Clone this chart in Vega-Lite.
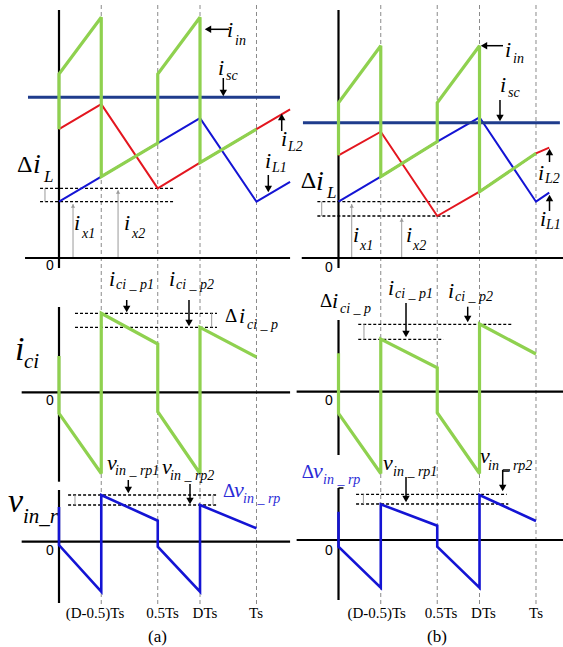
{
"$schema": "https://vega.github.io/schema/vega-lite/v6.json",
"padding": 0, "spacing": 0, "bounds": "flush", "background": "white",
"config": {"view": {"stroke": null}},
"datasets": {
"seg_a": [
{"c":"axis","t":0,"y":637,"t2":0,"y2":379},
{"c":"axis","t":-0.172,"y":389,"t2":1.17,"y2":389},
{"c":"axis","t":0,"y":340,"t2":0,"y2":165.3},
{"c":"axis","t":-0.189,"y":254.7,"t2":1.17,"y2":254.7},
{"c":"axis","t":0,"y":157,"t2":0,"y2":44},
{"c":"axis","t":-0.189,"y":105.3,"t2":1.17,"y2":105.3},
{"c":"grid","t":0.214,"y":642,"t2":0.214,"y2":40},
{"c":"grid","t":0.5,"y":642,"t2":0.5,"y2":40},
{"c":"grid","t":0.714,"y":642,"t2":0.714,"y2":40},
{"c":"grid","t":1,"y":642,"t2":1,"y2":40},
{"c":"dash","t":-0.096,"y":458.7,"t2":0.587,"y2":458.7},
{"c":"dash","t":-0.096,"y":445.3,"t2":0.587,"y2":445.3},
{"c":"dash","t":0.081,"y":333.7,"t2":0.8,"y2":333.7},
{"c":"dash","t":0.081,"y":319.7,"t2":0.8,"y2":319.7},
{"c":"dash","t":0.046,"y":152,"t2":0.8,"y2":152},
{"c":"dash","t":0.046,"y":142,"t2":0.8,"y2":142},
{"c":"arrow","t":0.7544,"y":617.7,"t2":0.8608,"y2":617.7},
{"c":"arrow","t":0.8319,"y":569,"t2":0.8319,"y2":554},
{"c":"arrow","t":1.1276,"y":516,"t2":1.1276,"y2":530},
{"c":"arrow","t":1.0598,"y":472,"t2":1.0598,"y2":458},
{"c":"arrow","t":0.3428,"y":347,"t2":0.3428,"y2":338},
{"c":"arrow","t":0.6582,"y":347,"t2":0.6582,"y2":324},
{"c":"arrow","t":0.3509,"y":167,"t2":0.3509,"y2":157},
{"c":"arrow","t":0.6633,"y":163,"t2":0.6633,"y2":146},
{"c":"garrow","t":0.071,"y":389,"t2":0.071,"y2":443},
{"c":"garrow","t":0.299,"y":389,"t2":0.299,"y2":456.7},
{"c":"garrow","t":-0.071,"y":458.7,"t2":-0.071,"y2":445.3},
{"c":"garrow","t":0.773,"y":333.7,"t2":0.773,"y2":319.7},
{"c":"garrow","t":0.081,"y":152,"t2":0.081,"y2":142},
{"c":"garrow","t":0.78,"y":152,"t2":0.78,"y2":142}
],
"head_a": [
{"c":"k","d":"left","t":0.7544,"y":617.7},
{"c":"k","d":"down","t":0.8319,"y":554},
{"c":"k","d":"up","t":1.1276,"y":530},
{"c":"k","d":"down","t":1.0598,"y":458},
{"c":"k","d":"down","t":0.3428,"y":338},
{"c":"k","d":"down","t":0.6582,"y":324},
{"c":"k","d":"down","t":0.3509,"y":157},
{"c":"k","d":"down","t":0.6633,"y":146},
{"c":"g","d":"up","t":0.071,"y":441},
{"c":"g","d":"up","t":0.299,"y":455}
],
"line_a": [
{"s":"iL1","k":1,"t":0,"y":445.3},{"s":"iL1","k":2,"t":0.214,"y":470.3},{"s":"iL1","k":3,"t":0.5,"y":503.8},{"s":"iL1","k":4,"t":0.714,"y":528.8},{"s":"iL1","k":5,"t":1,"y":445.3},{"s":"iL1","k":6,"t":1.17,"y":465.2},
{"s":"iL2","k":1,"t":0,"y":517.8},{"s":"iL2","k":2,"t":0.214,"y":542.8},{"s":"iL2","k":3,"t":0.5,"y":458.7},{"s":"iL2","k":4,"t":0.714,"y":484.3},{"s":"iL2","k":5,"t":1,"y":517.8},{"s":"iL2","k":6,"t":1.17,"y":537.7},
{"s":"isc","k":1,"t":-0.157,"y":549.7},{"s":"isc","k":2,"t":1.119,"y":549.7},
{"s":"iin","k":1,"t":0,"y":517.8},{"s":"iin","k":2,"t":0,"y":573},{"s":"iin","k":3,"t":0.214,"y":629.7},{"s":"iin","k":4,"t":0.214,"y":470.3},{"s":"iin","k":5,"t":0.5,"y":503.8},{"s":"iin","k":6,"t":0.5,"y":573},{"s":"iin","k":7,"t":0.714,"y":629.7},{"s":"iin","k":8,"t":0.714,"y":484.3},{"s":"iin","k":9,"t":1,"y":517.8},
{"s":"ici","k":1,"t":0,"y":291},{"s":"ici","k":2,"t":0,"y":233.7},{"s":"ici","k":3,"t":0.214,"y":173.5},{"s":"ici","k":4,"t":0.214,"y":333.7},{"s":"ici","k":5,"t":0.5,"y":303},{"s":"ici","k":6,"t":0.5,"y":235.3},{"s":"ici","k":7,"t":0.714,"y":173.5},{"s":"ici","k":8,"t":0.714,"y":319.7},{"s":"ici","k":9,"t":1,"y":290},
{"s":"vin","k":1,"t":0,"y":140},{"s":"vin","k":2,"t":0,"y":102},{"s":"vin","k":3,"t":0.214,"y":55.3},{"s":"vin","k":4,"t":0.214,"y":152},{"s":"vin","k":5,"t":0.5,"y":126.3},{"s":"vin","k":6,"t":0.5,"y":100.3},{"s":"vin","k":7,"t":0.714,"y":55.3},{"s":"vin","k":8,"t":0.714,"y":142},{"s":"vin","k":9,"t":1,"y":118.7}
],
"txt_a": [
{"r":"symL","s":"i","t":-0.1316,"y":474,"c":"k"},
{"r":"subL","s":"L","t":-0.0759,"y":465,"c":"k"},
{"r":"delL","s":"Δ","t":-0.2127,"y":475,"c":"k"},
{"r":"sym","s":"i","t":0.0759,"y":417,"c":"k"},
{"r":"sub","s":"x1","t":0.1165,"y":409,"c":"k"},
{"r":"sym","s":"i","t":0.3291,"y":417,"c":"k"},
{"r":"sub","s":"x2","t":0.3696,"y":409,"c":"k"},
{"r":"sym","s":"i","t":0.8506,"y":610,"c":"k"},
{"r":"sub","s":"in","t":0.8911,"y":602,"c":"k"},
{"r":"sym","s":"i","t":0.8051,"y":572,"c":"k"},
{"r":"sub","s":"sc","t":0.8456,"y":567,"c":"k"},
{"r":"sym","s":"i","t":1.1241,"y":501,"c":"k"},
{"r":"sub","s":"L2","t":1.1595,"y":496,"c":"k"},
{"r":"sym","s":"i","t":1.043,"y":479,"c":"k"},
{"r":"sub","s":"L1","t":1.0785,"y":475,"c":"k"},
{"r":"big","s":"i","t":-0.2228,"y":287,"c":"k"},
{"r":"bigsub","s":"ci","t":-0.1772,"y":279,"c":"k"},
{"r":"sym","s":"i","t":0.2532,"y":361,"c":"k"},
{"r":"sub","s":"ci _ p1","t":0.2886,"y":358,"c":"k"},
{"r":"sym","s":"i","t":0.557,"y":361,"c":"k"},
{"r":"sub","s":"ci _ p2","t":0.5924,"y":358,"c":"k"},
{"r":"del","s":"Δ","t":0.8405,"y":325,"c":"k"},
{"r":"sym","s":"i","t":0.9114,"y":324,"c":"k"},
{"r":"sub","s":"ci _ p","t":0.9519,"y":318,"c":"k"},
{"r":"big","s":"v","t":-0.2582,"y":135,"c":"k"},
{"r":"bigsub","s":"in_r","t":-0.1823,"y":124,"c":"k"},
{"r":"sym","s":"v","t":0.243,"y":177,"c":"k"},
{"r":"sub","s":"in _ rp1","t":0.2835,"y":172,"c":"k"},
{"r":"sym","s":"v","t":0.5215,"y":173,"c":"k"},
{"r":"sub","s":"in _ rp2","t":0.562,"y":167,"c":"k"},
{"r":"del","s":"Δ","t":0.8304,"y":150,"c":"b"},
{"r":"sym","s":"v","t":0.8861,"y":150,"c":"b"},
{"r":"sub","s":"in _ rp","t":0.9316,"y":144,"c":"b"},
{"r":"tick","s":"(D-0.5)Ts","t":0.1823,"y":29,"c":"k"},
{"r":"tick","s":"0.5Ts","t":0.524,"y":29,"c":"k"},
{"r":"tick","s":"DTs","t":0.7392,"y":29,"c":"k"},
{"r":"tick","s":"Ts","t":0.9975,"y":29,"c":"k"},
{"r":"panel","s":"(a)","t":0.4987,"y":5,"c":"k"},
{"r":"zero","s":"0","t":-0.0658,"y":377,"c":"k"},
{"r":"zero","s":"0","t":-0.0658,"y":242,"c":"k"},
{"r":"zero","s":"0","t":-0.0658,"y":92,"c":"k"}
],
"seg_b": [
{"c":"axis","t":0,"y":637,"t2":0,"y2":379},
{"c":"axis","t":-0.186,"y":389,"t2":1.137,"y2":389},
{"c":"axis","t":0,"y":327,"t2":0,"y2":192},
{"c":"axis","t":-0.212,"y":255.3,"t2":1.137,"y2":255.3},
{"c":"axis","t":0,"y":159,"t2":0,"y2":47},
{"c":"axis","t":-0.212,"y":107,"t2":1.137,"y2":107},
{"c":"arrow","t":0,"y":159,"t2":0.025,"y2":159},
{"c":"grid","t":0.214,"y":642,"t2":0.214,"y2":40},
{"c":"grid","t":0.5,"y":642,"t2":0.5,"y2":40},
{"c":"grid","t":0.714,"y":642,"t2":0.714,"y2":40},
{"c":"grid","t":1,"y":642,"t2":1,"y2":40},
{"c":"dash","t":-0.107,"y":445.3,"t2":0.565,"y2":445.3},
{"c":"dash","t":-0.107,"y":431,"t2":0.565,"y2":431},
{"c":"dash","t":0.1,"y":322.7,"t2":0.877,"y2":322.7},
{"c":"dash","t":0.1,"y":307.7,"t2":0.531,"y2":307.7},
{"c":"dash","t":0.089,"y":152.7,"t2":0.852,"y2":152.7},
{"c":"dash","t":0.089,"y":143,"t2":0.86,"y2":143},
{"c":"arrow","t":0.7367,"y":601.3,"t2":0.8329,"y2":601.3},
{"c":"arrow","t":0.8177,"y":547,"t2":0.8177,"y2":529},
{"c":"arrow","t":1.0684,"y":485,"t2":1.0684,"y2":495},
{"c":"arrow","t":1.0684,"y":436,"t2":1.0684,"y2":449},
{"c":"arrow","t":0.3418,"y":344,"t2":0.3418,"y2":313},
{"c":"arrow","t":0.6542,"y":340.3,"t2":0.6542,"y2":328},
{"c":"arrow","t":0.3418,"y":170,"t2":0.3418,"y2":148},
{"c":"arrow","t":0.8314,"y":177,"t2":0.8314,"y2":159},
{"c":"arrow","t":0.8314,"y":177,"t2":0.8684,"y2":177},
{"c":"garrow","t":0.067,"y":389,"t2":0.067,"y2":443},
{"c":"garrow","t":0.32,"y":389,"t2":0.32,"y2":429},
{"c":"garrow","t":-0.085,"y":445.3,"t2":-0.085,"y2":431},
{"c":"garrow","t":0.129,"y":322.7,"t2":0.129,"y2":307.7},
{"c":"garrow","t":0.126,"y":152.7,"t2":0.126,"y2":143}
],
"head_b": [
{"c":"k","d":"left","t":0.7367,"y":601.3},
{"c":"k","d":"down","t":0.8177,"y":529},
{"c":"k","d":"up","t":1.0684,"y":495},
{"c":"k","d":"up","t":1.0684,"y":449},
{"c":"k","d":"down","t":0.3418,"y":313},
{"c":"k","d":"down","t":0.6542,"y":328},
{"c":"k","d":"down","t":0.3418,"y":148},
{"c":"k","d":"down","t":0.8314,"y":159},
{"c":"g","d":"up","t":0.067,"y":441},
{"c":"g","d":"up","t":0.32,"y":427}
],
"line_b": [
{"s":"iL1","k":1,"t":0,"y":445.3},{"s":"iL1","k":2,"t":0.214,"y":470.3},{"s":"iL1","k":3,"t":0.5,"y":505.3},{"s":"iL1","k":4,"t":0.714,"y":529.7},{"s":"iL1","k":5,"t":1,"y":445.3},{"s":"iL1","k":6,"t":1.067,"y":454.3},
{"s":"iL2","k":1,"t":0,"y":491.7},{"s":"iL2","k":2,"t":0.214,"y":515.3},{"s":"iL2","k":3,"t":0.5,"y":431},{"s":"iL2","k":4,"t":0.714,"y":455.3},{"s":"iL2","k":5,"t":1,"y":493.7},{"s":"iL2","k":6,"t":1.067,"y":499.3},
{"s":"isc","k":1,"t":-0.18,"y":524.3},{"s":"isc","k":2,"t":1.121,"y":524.3},
{"s":"iin","k":1,"t":0,"y":491.7},{"s":"iin","k":2,"t":0,"y":544.3},{"s":"iin","k":3,"t":0.214,"y":601.3},{"s":"iin","k":4,"t":0.214,"y":470.3},{"s":"iin","k":5,"t":0.5,"y":505.3},{"s":"iin","k":6,"t":0.5,"y":544.3},{"s":"iin","k":7,"t":0.714,"y":601.3},{"s":"iin","k":8,"t":0.714,"y":455.3},{"s":"iin","k":9,"t":1,"y":493.7},
{"s":"ici","k":1,"t":0,"y":293.7},{"s":"ici","k":2,"t":0,"y":233.7},{"s":"ici","k":3,"t":0.214,"y":173.5},{"s":"ici","k":4,"t":0.214,"y":308},{"s":"ici","k":5,"t":0.5,"y":279.3},{"s":"ici","k":6,"t":0.5,"y":234.3},{"s":"ici","k":7,"t":0.714,"y":173.5},{"s":"ici","k":8,"t":0.714,"y":323},{"s":"ici","k":9,"t":1,"y":293},
{"s":"vin","k":1,"t":0,"y":135.3},{"s":"vin","k":2,"t":0,"y":100.3},{"s":"vin","k":3,"t":0.214,"y":59.3},{"s":"vin","k":4,"t":0.214,"y":142.7},{"s":"vin","k":5,"t":0.5,"y":121.3},{"s":"vin","k":6,"t":0.5,"y":100.3},{"s":"vin","k":7,"t":0.714,"y":59.3},{"s":"vin","k":8,"t":0.714,"y":152},{"s":"vin","k":9,"t":1,"y":126}
],
"txt_b": [
{"r":"delL","s":"Δ","t":-0.1914,"y":459,"c":"k"},
{"r":"symL","s":"i","t":-0.1139,"y":457,"c":"k"},
{"r":"subL","s":"L","t":-0.0582,"y":449,"c":"k"},
{"r":"sym","s":"i","t":0.0734,"y":405,"c":"k"},
{"r":"sub","s":"x1","t":0.1089,"y":397,"c":"k"},
{"r":"sym","s":"i","t":0.3418,"y":405,"c":"k"},
{"r":"sub","s":"x2","t":0.3772,"y":397,"c":"k"},
{"r":"sym","s":"i","t":0.843,"y":590,"c":"k"},
{"r":"sub","s":"in","t":0.8835,"y":584,"c":"k"},
{"r":"sym","s":"i","t":0.8177,"y":555,"c":"k"},
{"r":"sub","s":"sc","t":0.8582,"y":550,"c":"k"},
{"r":"sym","s":"i","t":1.0101,"y":467,"c":"k"},
{"r":"sub","s":"L2","t":1.0456,"y":464,"c":"k"},
{"r":"sym","s":"i","t":1.0203,"y":421,"c":"k"},
{"r":"sub","s":"L1","t":1.0506,"y":418,"c":"k"},
{"r":"del","s":"Δ","t":-0.0937,"y":340,"c":"k"},
{"r":"sym","s":"i","t":-0.0329,"y":339,"c":"k"},
{"r":"sub","s":"ci _ p","t":0.0076,"y":334,"c":"k"},
{"r":"sym","s":"i","t":0.2506,"y":352,"c":"k"},
{"r":"sub","s":"ci _ p1","t":0.2861,"y":349,"c":"k"},
{"r":"sym","s":"i","t":0.5544,"y":349,"c":"k"},
{"r":"sub","s":"ci _ p2","t":0.5899,"y":346,"c":"k"},
{"r":"del","s":"Δ","t":-0.1863,"y":169,"c":"b"},
{"r":"sym","s":"v","t":-0.1291,"y":169,"c":"b"},
{"r":"sub","s":"in _ rp","t":-0.0785,"y":163,"c":"b"},
{"r":"sym","s":"v","t":0.2253,"y":177,"c":"k"},
{"r":"sub","s":"in _ rp1","t":0.2759,"y":171,"c":"k"},
{"r":"sym","s":"v","t":0.7165,"y":184,"c":"k"},
{"r":"sub","s":"in _ rp2","t":0.757,"y":177,"c":"k"},
{"r":"tick","s":"(D-0.5)Ts","t":0.1934,"y":29,"c":"k"},
{"r":"tick","s":"0.5Ts","t":0.519,"y":29,"c":"k"},
{"r":"tick","s":"DTs","t":0.7342,"y":29,"c":"k"},
{"r":"tick","s":"Ts","t":1.0,"y":29,"c":"k"},
{"r":"panel","s":"(b)","t":0.4987,"y":5,"c":"k"},
{"r":"zero","s":"0","t":-0.0684,"y":375,"c":"k"},
{"r":"zero","s":"0","t":-0.0684,"y":242,"c":"k"},
{"r":"zero","s":"0","t":-0.0684,"y":92,"c":"k"}
]
},
"hconcat": [
{
"width": 290, "height": 647,
"encoding": {
 "x": {"field":"t","type":"quantitative","scale":{"domain":[-0.29873,1.16962],"nice":false,"zero":false},"axis":null},
 "y": {"field":"y","type":"quantitative","scale":{"domain":[0,647],"nice":false,"zero":false},"axis":null}
},
"layer": [
 {"data":{"name":"seg_a"},"transform":[{"filter":"datum.c=='grid'"}],"mark":{"type":"rule","color":"#8a8a8a","strokeWidth":1,"strokeDash":[4,3]},"encoding":{"x2":{"field":"t2"},"y2":{"field":"y2"}}},
 {"data":{"name":"seg_a"},"transform":[{"filter":"datum.c=='dash'"}],"mark":{"type":"rule","color":"#000000","strokeWidth":1.3,"strokeDash":[3,2]},"encoding":{"x2":{"field":"t2"},"y2":{"field":"y2"}}},
 {"data":{"name":"seg_a"},"transform":[{"filter":"datum.c=='garrow'"}],"mark":{"type":"rule","color":"#9a9a9a","strokeWidth":1},"encoding":{"x2":{"field":"t2"},"y2":{"field":"y2"}}},
 {"data":{"name":"seg_a"},"transform":[{"filter":"datum.c=='axis'"}],"mark":{"type":"rule","color":"#000000","strokeWidth":2.2},"encoding":{"x2":{"field":"t2"},"y2":{"field":"y2"}}},
 {"data":{"name":"line_a"},"transform":[{"filter":"datum.s=='iL1'"}],"mark":{"type":"line","color":"#1414d4","strokeWidth":2,"strokeJoin":"miter","strokeMiterLimit":3},"encoding":{"order":{"field":"k","type":"quantitative"}}},
 {"data":{"name":"line_a"},"transform":[{"filter":"datum.s=='iL2'"}],"mark":{"type":"line","color":"#e3161f","strokeWidth":2,"strokeJoin":"miter","strokeMiterLimit":3},"encoding":{"order":{"field":"k","type":"quantitative"}}},
 {"data":{"name":"line_a"},"transform":[{"filter":"datum.s=='isc'"}],"mark":{"type":"line","color":"#1f3c8c","strokeWidth":3},"encoding":{"order":{"field":"k","type":"quantitative"}}},
 {"data":{"name":"line_a"},"transform":[{"filter":"datum.s=='vin'"}],"mark":{"type":"line","color":"#1414d4","strokeWidth":2.6,"strokeJoin":"miter","strokeMiterLimit":3},"encoding":{"order":{"field":"k","type":"quantitative"}}},
 {"data":{"name":"line_a"},"transform":[{"filter":"datum.s=='iin' || datum.s=='ici'"}],"mark":{"type":"line","color":"#8fd14f","strokeWidth":3.2,"strokeJoin":"miter","strokeMiterLimit":3},"encoding":{"detail":{"field":"s"},"order":{"field":"k","type":"quantitative"}}},
 {"data":{"name":"seg_a"},"transform":[{"filter":"datum.c=='arrow'"}],"mark":{"type":"rule","color":"#000000","strokeWidth":1.5},"encoding":{"x2":{"field":"t2"},"y2":{"field":"y2"}}},
 {"data":{"name":"head_a"},"transform":[{"filter":"datum.c=='k'"}],"mark":{"type":"point","filled":true,"color":"#000000","size":55,"opacity":1},"encoding":{"shape":{"field":"d","type":"nominal","scale":{"domain":["up","down","left"],"range":["triangle-up","triangle-down","triangle-left"]},"legend":null}}},
 {"data":{"name":"head_a"},"transform":[{"filter":"datum.c=='g'"}],"mark":{"type":"point","filled":true,"color":"#9a9a9a","size":18,"opacity":1},"encoding":{"shape":{"field":"d","type":"nominal","scale":{"domain":["up","down","left"],"range":["triangle-up","triangle-down","triangle-left"]},"legend":null}}},
 {"data":{"name":"txt_a"},"transform":[{"filter":"datum.r=='sym'"}],"mark":{"type":"text","font":"Liberation Serif","fontStyle":"italic","fontSize":22,"align":"left","baseline":"alphabetic"},"encoding":{"text":{"field":"s"},"color":{"field":"c","type":"nominal","scale":{"domain":["k","b"],"range":["#000000","#2b2bd6"]},"legend":null}}},
 {"data":{"name":"txt_a"},"transform":[{"filter":"datum.r=='sub'"}],"mark":{"type":"text","font":"Liberation Serif","fontStyle":"italic","fontSize":14,"align":"left","baseline":"alphabetic"},"encoding":{"text":{"field":"s"},"color":{"field":"c","type":"nominal","scale":{"domain":["k","b"],"range":["#000000","#2b2bd6"]},"legend":null}}},
 {"data":{"name":"txt_a"},"transform":[{"filter":"datum.r=='symL'"}],"mark":{"type":"text","font":"Liberation Serif","fontStyle":"italic","fontSize":28,"align":"left","baseline":"alphabetic","color":"#000000"},"encoding":{"text":{"field":"s"}}},
 {"data":{"name":"txt_a"},"transform":[{"filter":"datum.r=='subL'"}],"mark":{"type":"text","font":"Liberation Serif","fontStyle":"italic","fontSize":17,"align":"left","baseline":"alphabetic","color":"#000000"},"encoding":{"text":{"field":"s"}}},
 {"data":{"name":"txt_a"},"transform":[{"filter":"datum.r=='big'"}],"mark":{"type":"text","font":"Liberation Serif","fontStyle":"italic","fontSize":34,"align":"left","baseline":"alphabetic","color":"#000000"},"encoding":{"text":{"field":"s"}}},
 {"data":{"name":"txt_a"},"transform":[{"filter":"datum.r=='bigsub'"}],"mark":{"type":"text","font":"Liberation Serif","fontStyle":"italic","fontSize":21,"align":"left","baseline":"alphabetic","color":"#000000"},"encoding":{"text":{"field":"s"}}},
 {"data":{"name":"txt_a"},"transform":[{"filter":"datum.r=='delL'"}],"mark":{"type":"text","font":"Liberation Serif","fontSize":24,"align":"left","baseline":"alphabetic","color":"#000000"},"encoding":{"text":{"field":"s"}}},
 {"data":{"name":"txt_a"},"transform":[{"filter":"datum.r=='del'"}],"mark":{"type":"text","font":"Liberation Serif","fontSize":19,"align":"left","baseline":"alphabetic"},"encoding":{"text":{"field":"s"},"color":{"field":"c","type":"nominal","scale":{"domain":["k","b"],"range":["#000000","#2b2bd6"]},"legend":null}}},
 {"data":{"name":"txt_a"},"transform":[{"filter":"datum.r=='tick'"}],"mark":{"type":"text","font":"Liberation Serif","fontSize":15,"align":"center","baseline":"alphabetic","color":"#000000"},"encoding":{"text":{"field":"s"}}},
 {"data":{"name":"txt_a"},"transform":[{"filter":"datum.r=='panel'"}],"mark":{"type":"text","font":"Liberation Serif","fontSize":17,"align":"center","baseline":"alphabetic","color":"#000000"},"encoding":{"text":{"field":"s"}}},
 {"data":{"name":"txt_a"},"transform":[{"filter":"datum.r=='zero'"}],"mark":{"type":"text","font":"Liberation Sans","fontSize":14,"align":"left","baseline":"alphabetic","color":"#000000"},"encoding":{"text":{"field":"s"}}}
]
},
{
"width": 273, "height": 647,
"encoding": {
 "x": {"field":"t","type":"quantitative","scale":{"domain":[-0.24557,1.13671],"nice":false,"zero":false},"axis":null},
 "y": {"field":"y","type":"quantitative","scale":{"domain":[0,647],"nice":false,"zero":false},"axis":null}
},
"layer": [
 {"data":{"name":"seg_b"},"transform":[{"filter":"datum.c=='grid'"}],"mark":{"type":"rule","color":"#8a8a8a","strokeWidth":1,"strokeDash":[4,3]},"encoding":{"x2":{"field":"t2"},"y2":{"field":"y2"}}},
 {"data":{"name":"seg_b"},"transform":[{"filter":"datum.c=='dash'"}],"mark":{"type":"rule","color":"#000000","strokeWidth":1.3,"strokeDash":[3,2]},"encoding":{"x2":{"field":"t2"},"y2":{"field":"y2"}}},
 {"data":{"name":"seg_b"},"transform":[{"filter":"datum.c=='garrow'"}],"mark":{"type":"rule","color":"#9a9a9a","strokeWidth":1},"encoding":{"x2":{"field":"t2"},"y2":{"field":"y2"}}},
 {"data":{"name":"seg_b"},"transform":[{"filter":"datum.c=='axis'"}],"mark":{"type":"rule","color":"#000000","strokeWidth":2.2},"encoding":{"x2":{"field":"t2"},"y2":{"field":"y2"}}},
 {"data":{"name":"line_b"},"transform":[{"filter":"datum.s=='iL1'"}],"mark":{"type":"line","color":"#1414d4","strokeWidth":2,"strokeJoin":"miter","strokeMiterLimit":3},"encoding":{"order":{"field":"k","type":"quantitative"}}},
 {"data":{"name":"line_b"},"transform":[{"filter":"datum.s=='iL2'"}],"mark":{"type":"line","color":"#e3161f","strokeWidth":2,"strokeJoin":"miter","strokeMiterLimit":3},"encoding":{"order":{"field":"k","type":"quantitative"}}},
 {"data":{"name":"line_b"},"transform":[{"filter":"datum.s=='isc'"}],"mark":{"type":"line","color":"#1f3c8c","strokeWidth":3},"encoding":{"order":{"field":"k","type":"quantitative"}}},
 {"data":{"name":"line_b"},"transform":[{"filter":"datum.s=='vin'"}],"mark":{"type":"line","color":"#1414d4","strokeWidth":2.6,"strokeJoin":"miter","strokeMiterLimit":3},"encoding":{"order":{"field":"k","type":"quantitative"}}},
 {"data":{"name":"line_b"},"transform":[{"filter":"datum.s=='iin' || datum.s=='ici'"}],"mark":{"type":"line","color":"#8fd14f","strokeWidth":3.2,"strokeJoin":"miter","strokeMiterLimit":3},"encoding":{"detail":{"field":"s"},"order":{"field":"k","type":"quantitative"}}},
 {"data":{"name":"seg_b"},"transform":[{"filter":"datum.c=='arrow'"}],"mark":{"type":"rule","color":"#000000","strokeWidth":1.5},"encoding":{"x2":{"field":"t2"},"y2":{"field":"y2"}}},
 {"data":{"name":"head_b"},"transform":[{"filter":"datum.c=='k'"}],"mark":{"type":"point","filled":true,"color":"#000000","size":55,"opacity":1},"encoding":{"shape":{"field":"d","type":"nominal","scale":{"domain":["up","down","left"],"range":["triangle-up","triangle-down","triangle-left"]},"legend":null}}},
 {"data":{"name":"head_b"},"transform":[{"filter":"datum.c=='g'"}],"mark":{"type":"point","filled":true,"color":"#9a9a9a","size":18,"opacity":1},"encoding":{"shape":{"field":"d","type":"nominal","scale":{"domain":["up","down","left"],"range":["triangle-up","triangle-down","triangle-left"]},"legend":null}}},
 {"data":{"name":"txt_b"},"transform":[{"filter":"datum.r=='sym'"}],"mark":{"type":"text","font":"Liberation Serif","fontStyle":"italic","fontSize":22,"align":"left","baseline":"alphabetic"},"encoding":{"text":{"field":"s"},"color":{"field":"c","type":"nominal","scale":{"domain":["k","b"],"range":["#000000","#2b2bd6"]},"legend":null}}},
 {"data":{"name":"txt_b"},"transform":[{"filter":"datum.r=='sub'"}],"mark":{"type":"text","font":"Liberation Serif","fontStyle":"italic","fontSize":14,"align":"left","baseline":"alphabetic"},"encoding":{"text":{"field":"s"},"color":{"field":"c","type":"nominal","scale":{"domain":["k","b"],"range":["#000000","#2b2bd6"]},"legend":null}}},
 {"data":{"name":"txt_b"},"transform":[{"filter":"datum.r=='symL'"}],"mark":{"type":"text","font":"Liberation Serif","fontStyle":"italic","fontSize":28,"align":"left","baseline":"alphabetic","color":"#000000"},"encoding":{"text":{"field":"s"}}},
 {"data":{"name":"txt_b"},"transform":[{"filter":"datum.r=='subL'"}],"mark":{"type":"text","font":"Liberation Serif","fontStyle":"italic","fontSize":17,"align":"left","baseline":"alphabetic","color":"#000000"},"encoding":{"text":{"field":"s"}}},
 {"data":{"name":"txt_b"},"transform":[{"filter":"datum.r=='delL'"}],"mark":{"type":"text","font":"Liberation Serif","fontSize":24,"align":"left","baseline":"alphabetic","color":"#000000"},"encoding":{"text":{"field":"s"}}},
 {"data":{"name":"txt_b"},"transform":[{"filter":"datum.r=='del'"}],"mark":{"type":"text","font":"Liberation Serif","fontSize":19,"align":"left","baseline":"alphabetic"},"encoding":{"text":{"field":"s"},"color":{"field":"c","type":"nominal","scale":{"domain":["k","b"],"range":["#000000","#2b2bd6"]},"legend":null}}},
 {"data":{"name":"txt_b"},"transform":[{"filter":"datum.r=='tick'"}],"mark":{"type":"text","font":"Liberation Serif","fontSize":15,"align":"center","baseline":"alphabetic","color":"#000000"},"encoding":{"text":{"field":"s"}}},
 {"data":{"name":"txt_b"},"transform":[{"filter":"datum.r=='panel'"}],"mark":{"type":"text","font":"Liberation Serif","fontSize":17,"align":"center","baseline":"alphabetic","color":"#000000"},"encoding":{"text":{"field":"s"}}},
 {"data":{"name":"txt_b"},"transform":[{"filter":"datum.r=='zero'"}],"mark":{"type":"text","font":"Liberation Sans","fontSize":14,"align":"left","baseline":"alphabetic","color":"#000000"},"encoding":{"text":{"field":"s"}}}
]
}
]
}
